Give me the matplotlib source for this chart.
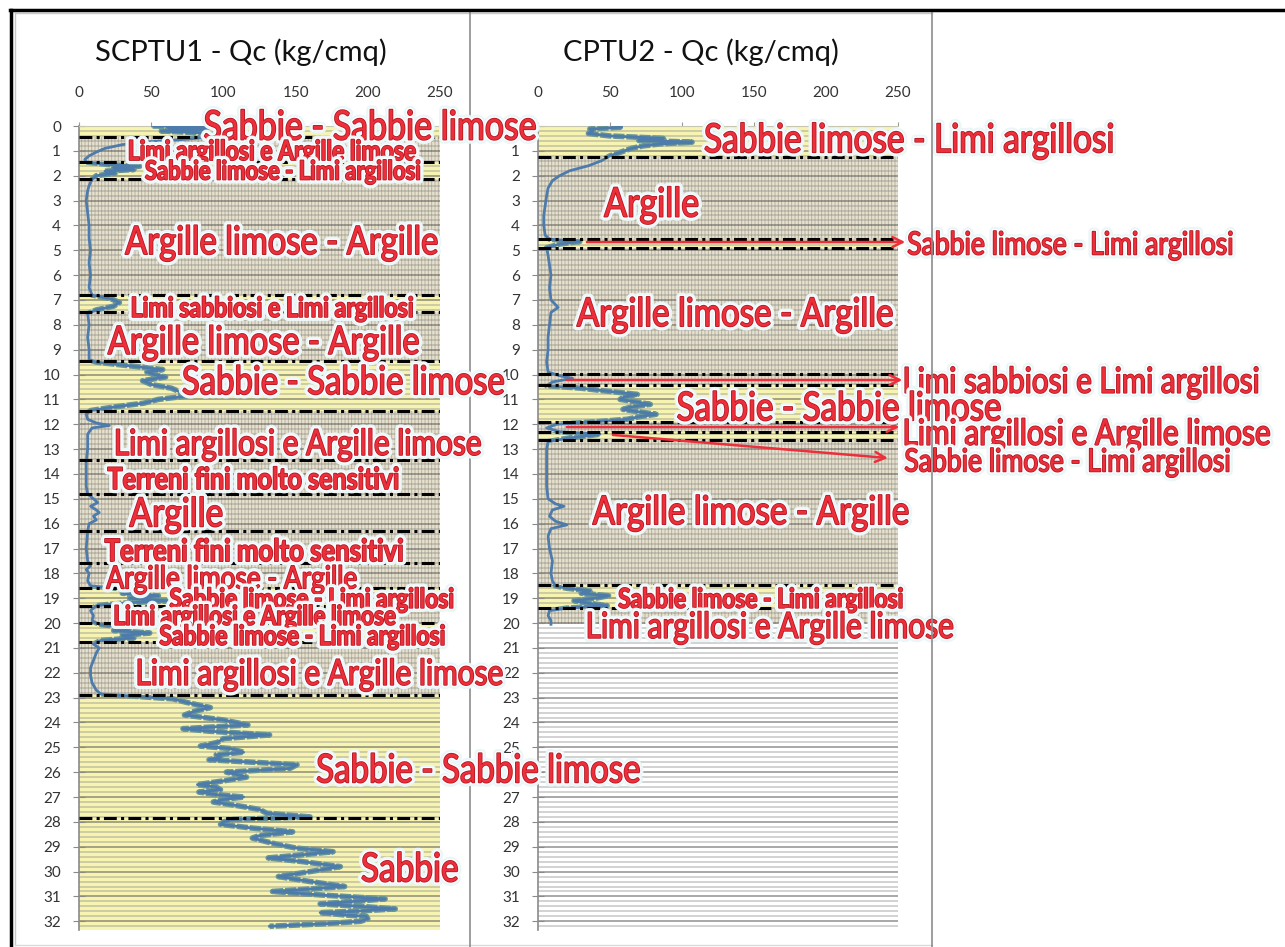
import matplotlib
matplotlib.use('Agg')
import matplotlib.pyplot as plt
import matplotlib.patheffects as pe
from matplotlib.lines import Line2D
from matplotlib.path import Path
from matplotlib.patches import PathPatch
from matplotlib.textpath import TextPath
from matplotlib.font_manager import FontProperties
from matplotlib.transforms import Affine2D
from matplotlib.ticker import MultipleLocator

plt.rcParams['font.family'] = ['Lato', 'DejaVu Sans']
plt.rcParams['hatch.linewidth'] = 0.7

### SCPTU1 - cone resistance Qc (kg/cmq) against depth (m) ###
scptu1_depth = [0.00, 0.04, 0.08, 0.14, 0.20, 0.28, 0.36, 0.45, 0.55, 0.65, 0.75, 0.90,
                1.05, 1.20, 1.35, 1.45, 1.55, 1.62, 1.68, 1.75, 1.82, 1.90, 2.00, 2.15,
                2.40, 2.60, 3.00, 3.50, 4.00, 4.50, 5.00, 5.50, 6.00, 6.50, 6.80, 6.95,
                7.10, 7.25, 7.40, 7.55, 8.00, 8.50, 9.00, 9.40, 9.50, 9.65, 9.80, 9.90,
                10.00, 10.10, 10.25, 10.40, 10.55, 10.70, 10.85, 11.00, 11.15, 11.30, 11.45, 11.60,
                11.80, 11.95, 12.05, 12.15, 12.40, 13.00, 13.50, 14.00, 14.50, 14.80, 15.00, 15.15,
                15.30, 15.45, 15.55, 15.70, 15.85, 16.00, 16.30, 17.00, 17.50, 17.70, 17.85, 18.00,
                18.30, 18.50, 18.60, 18.70, 18.80, 18.90, 19.00, 19.10, 19.20, 19.30, 19.50, 19.70,
                19.90, 20.05, 20.20, 20.30, 20.40, 20.50, 20.60, 20.70, 20.85, 21.00, 21.20, 21.50,
                21.80, 22.10, 22.40, 22.70, 22.85, 22.95, 23.05, 23.20, 23.40, 23.55, 23.70, 23.90,
                24.10, 24.25, 24.35, 24.50, 24.65, 24.80, 24.95, 25.05, 25.20, 25.30, 25.40, 25.50,
                25.70, 25.85, 26.00, 26.10, 26.20, 26.35, 26.50, 26.60, 26.70, 26.80, 26.90, 27.00,
                27.10, 27.20, 27.35, 27.50, 27.65, 27.80, 27.90, 28.00, 28.10, 28.25, 28.40, 28.55,
                28.65, 28.80, 28.90, 29.05, 29.20, 29.35, 29.45, 29.60, 29.80, 30.00, 30.20, 30.40,
                30.60, 30.70, 30.80, 30.95, 31.10, 31.20, 31.30, 31.40, 31.50, 31.60, 31.65, 31.75,
                31.80, 31.90, 32.00, 32.10, 32.20]
scptu1_qc = [51, 92, 62, 88, 57, 85, 95, 90, 70, 45, 30, 18,
             12, 7, 4, 5, 20, 42, 24, 38, 18, 25, 12, 9,
             7, 6, 5, 6, 7, 7, 8, 7, 8, 7, 9, 22,
             28, 24, 12, 6, 7, 6, 7, 7, 12, 35, 58, 47,
             52, 60, 44, 50, 64, 70, 77, 55, 45, 25, 8, 5,
             6, 12, 21, 9, 6, 6, 5, 5, 5, 6, 10, 13,
             8, 12, 14, 10, 12, 7, 6, 5, 6, 8, 5, 7,
             6, 8, 25, 45, 30, 55, 35, 61, 30, 12, 8, 10,
             9, 14, 35, 24, 49, 30, 38, 15, 10, 14, 12, 10,
             8, 8, 9, 12, 15, 40, 65, 75, 91, 80, 73, 100,
             117, 72, 90, 132, 100, 96, 84, 105, 114, 95, 98, 90,
             151, 146, 102, 110, 116, 100, 82, 95, 98, 83, 95, 114,
             100, 93, 110, 125, 130, 160, 107, 100, 98, 120, 148, 125,
             120, 130, 137, 150, 176, 150, 131, 155, 181, 160, 138, 160,
             184, 160, 134, 170, 212, 190, 167, 195, 219, 190, 167, 185,
             199, 200, 195, 170, 132]

### CPTU2 ###
cptu2_depth = [0.05, 0.12, 0.20, 0.30, 0.40, 0.50, 0.58, 0.65, 0.72, 0.80, 0.90, 1.00,
               1.20, 1.40, 1.60, 1.80, 2.00, 2.20, 2.50, 2.80, 3.20, 3.60, 4.00, 4.40,
               4.55, 4.65, 4.75, 4.90, 5.20, 5.60, 6.00, 6.50, 7.00, 7.30, 7.50, 8.00,
               8.50, 9.00, 9.50, 9.90, 10.05, 10.15, 10.30, 10.45, 10.55, 10.65, 10.80, 10.90,
               11.00, 11.10, 11.20, 11.30, 11.40, 11.50, 11.60, 11.70, 11.80, 11.90, 12.00, 12.15,
               12.30, 12.40, 12.50, 12.55, 12.70, 13.00, 13.50, 14.00, 14.50, 15.00, 15.20, 15.30,
               15.45, 15.70, 15.90, 16.05, 16.20, 16.50, 17.00, 17.50, 18.00, 18.30, 18.50, 18.60,
               18.70, 18.80, 18.90, 19.00, 19.10, 19.20, 19.30, 19.40, 19.50, 19.70, 19.90, 20.05]
cptu2_qc = [58, 36, 38, 35, 50, 87, 70, 107, 85, 73, 65, 60,
            50, 44, 35, 22, 15, 10, 7, 6, 5, 4, 4, 5,
            8, 29, 15, 6, 7, 8, 9, 8, 9, 14, 9, 8,
            7, 7, 6, 7, 15, 24, 10, 6, 30, 45, 69, 60,
            57, 68, 78, 65, 59, 70, 82, 70, 62, 40, 13, 6,
            15, 43, 30, 22, 7, 6, 6, 6, 6, 7, 12, 18,
            10, 8, 12, 20, 9, 7, 8, 10, 9, 10, 12, 20,
            36, 30, 49, 40, 25, 35, 48, 20, 8, 7, 9, 9]

### stratigraphy (top, bottom in m) ###
scptu1_sand = [(0, 0.43), (1.46, 2.12), (6.8, 7.5), (9.46, 11.48), (18.57, 19.3),
               (20.0, 20.75), (22.88, 32.35)]
scptu1_fine = [(0.43, 1.46), (2.12, 6.8), (7.5, 9.46), (11.48, 18.57), (19.3, 20.0),
               (20.75, 22.88)]
scptu1_bounds = [0.43, 1.46, 2.12, 6.8, 7.5, 9.46, 11.48, 13.43, 14.8, 16.29, 17.6,
                 18.57, 19.3, 20.0, 20.75, 22.88, 27.85]

cptu2_sand = [(0, 1.24), (4.56, 4.89), (10.44, 11.92), (12.32, 12.62), (18.47, 19.4)]
cptu2_fine = [(1.24, 4.56), (4.89, 10.44), (11.92, 12.32), (12.62, 18.47), (19.4, 20.05)]
cptu2_bounds = [1.24, 4.56, 4.89, 9.96, 10.44, 11.92, 12.32, 12.62, 18.47, 19.4]

qc_ticks = [0, 50, 100, 150, 200, 250]
depth_max = 32.35

# layer names: text, qc where it starts, qc where it ends, depth, bold
scptu1_notes = [
    ('Sabbie - Sabbie limose', 87, 316, -0.04, False),
    ('Limi argillosi e Argille limose', 35, 233, 0.97, True),
    ('Sabbie limose - Limi argillosi', 46, 236, 1.77, True),
    ('Argille limose - Argille', 32, 248, 4.59, False),
    ('Limi sabbiosi e Limi argillosi', 37, 231, 7.28, True),
    ('Argille limose - Argille', 20, 235, 8.61, False),
    ('Sabbie - Sabbie limose', 72, 294, 10.22, False),
    ('Limi argillosi e Argille limose', 26, 278, 12.72, False),
    ('Terreni fini molto sensitivi', 20, 221, 14.17, True),
    ('Argille', 35, 99, 15.53, False),
    ('Terreni fini molto sensitivi', 18, 224, 17.06, True),
    ('Argille limose - Argille', 19, 192, 18.15, False),
    ('Sabbie limose - Limi argillosi', 63, 259, 18.99, True),
    ('Limi argillosi e Argille limose', 25, 219, 19.68, True),
    ('Sabbie limose - Limi argillosi', 56, 253, 20.48, True),
    ('Limi argillosi e Argille limose', 41, 293, 21.97, False),
    ('Sabbie - Sabbie limose', 165, 388, 25.84, False),
    ('Sabbie', 196, 262, 29.82, False),
]
cptu2_notes = [
    ('Sabbie limose - Limi argillosi', 116, 399, 0.48, False),
    ('Argille', 46, 111, 3.06, False),
    ('Sabbie limose - Limi argillosi', 257, 482, 4.71, False),
    ('Argille limose - Argille', 27, 246, 7.48, False),
    ('Limi sabbiosi e Limi argillosi', 255, 500, 10.22, False),
    ('Sabbie - Sabbie limose', 97, 321, 11.27, False),
    ('Limi argillosi e Argille limose', 255, 508, 12.31, False),
    ('Sabbie limose - Limi argillosi', 255, 480, 13.44, False),
    ('Argille limose - Argille', 38, 257, 15.45, False),
    ('Sabbie limose - Limi argillosi', 56, 253, 18.99, True),
    ('Limi argillosi e Argille limose', 35, 288, 20.08, False),
]
# arrows from thin layers out to their names: (qc, depth) start -> end
cptu2_arrows = [((34, 4.67), (255, 4.67)),
                ((20, 10.22), (253, 10.22)),
                ((20, 12.11), (251, 12.11)),
                ((52, 12.43), (243, 13.36))]

W, H = 1285, 947
RED = '#ec2f3b'
STRETCH = 1.2   # layer names are drawn a little taller than the font
halo = [pe.Stroke(linewidth=6, foreground='#eaf6f8', joinstyle='round', capstyle='round'),
        pe.Stroke(linewidth=3, foreground='white', joinstyle='round', capstyle='round'),
        pe.Stroke(linewidth=1.2, foreground='#b51822', joinstyle='round', capstyle='round'),
        pe.Normal()]

fig = plt.figure(figsize=(W / 100, H / 100), dpi=100)


def fig_line(x0, y0, x1, y1, **kw):
    fig.add_artist(Line2D([x0 / W, x1 / W], [1 - y0 / H, 1 - y1 / H], **kw))


def draw_column(ax, depth, qc, sand, fine, bounds):
    ax.set_xlim(qc_ticks[0], qc_ticks[-1])
    ax.set_ylim(depth_max, 0)

    # layer colours: sand yellow, fine soils grey mesh
    for top, bot in sand:
        ax.axhspan(top, bot, color='#f7f3b0', lw=0, zorder=0)
    for top, bot in fine:
        ax.axhspan(top, bot, facecolor='#e6e1cf', edgecolor='#b9b29e', hatch='|||||',
                   lw=0, zorder=0)

    ax.yaxis.set_major_locator(MultipleLocator(1))
    ax.yaxis.set_minor_locator(MultipleLocator(0.2))
    ax.grid(axis='y', which='major', color='#555555', alpha=0.55, lw=1.3)
    ax.grid(axis='y', which='minor', color='#8c8c8c', alpha=0.45, lw=1.2)

    ax.xaxis.tick_top()
    ax.set_xticks(qc_ticks)
    ax.tick_params(axis='x', which='major', direction='out', length=3, pad=16,
                   labelsize=11, color='#9a9a9a', labelcolor='#333333')
    ax.tick_params(axis='y', which='major', direction='inout', length=8, pad=9,
                   labelsize=11, color='#8a8a8a', labelcolor='#333333')
    ax.tick_params(axis='y', which='minor', length=0)
    for side in ('right', 'bottom'):
        ax.spines[side].set_visible(False)
    ax.spines['left'].set_color('#8a8a8a')
    ax.spines['left'].set_linewidth(1.2)
    ax.spines['top'].set_color('#c8c8b0')

    # the profile; sandy stretches get a wider dashed band underneath
    ax.plot(qc, depth, color='#4d7bab', lw=2.0, zorder=3, solid_joinstyle='round')
    clip = Path.make_compound_path(*[
        Path.unit_rectangle().transformed(Affine2D().scale(400, b - t).translate(-50, t))
        for t, b in sand])
    band, = ax.plot(qc, depth, color='#6a9695', lw=4.0, ls=(0, (2.0, 0.35)), zorder=2.9)
    band.set_clip_path(clip, transform=ax.transData)

    for d in bounds:
        ax.axhline(d, color='black', lw=2.2, ls=(0, (4.2, 1.4, 1, 1.4)), zorder=4)


def name_layer(ax, text, q0, q1, d, bold):
    # text as an outline path, scaled to span q0..q1 and centred on depth d
    prop = FontProperties(family='Lato', weight='bold' if bold else 'normal')
    path = TextPath((0, 0), text, size=100, prop=prop)
    cap = TextPath((0, 0), 'H', size=100, prop=prop).get_extents().height
    ext = path.get_extents()
    x0, yc = ax.transData.transform((q0, d))
    x1 = ax.transData.transform((q1, d))[0]
    sx = (x1 - x0) / ext.width
    sy = sx * STRETCH
    tr = Affine2D().translate(-ext.x0, 0).scale(sx, sy).translate(x0, yc - cap * sy / 2)
    ax.add_patch(PathPatch(path, transform=tr, facecolor=RED, lw=0, zorder=6,
                           clip_on=False, path_effects=halo))


ax1 = fig.add_axes([79 / W, 1 - 930 / H, 361 / W, 804 / H])
ax2 = fig.add_axes([538 / W, 1 - 930 / H, 360 / W, 804 / H])
ax1.set_zorder(2)   # left names run across into the right column

draw_column(ax1, scptu1_depth, scptu1_qc, scptu1_sand, scptu1_fine, scptu1_bounds)
draw_column(ax2, cptu2_depth, cptu2_qc, cptu2_sand, cptu2_fine, cptu2_bounds)

for start, end in cptu2_arrows:
    ax2.annotate('', xy=end, xytext=start, annotation_clip=False, zorder=5,
                 arrowprops=dict(arrowstyle='->', color=RED, lw=1.8, mutation_scale=18,
                                 shrinkA=0, shrinkB=0))

for note in scptu1_notes:
    name_layer(ax1, *note)
for note in cptu2_notes:
    name_layer(ax2, *note)

fig.text(241 / W, 1 - 52 / H, 'SCPTU1 - Qc (kg/cmq)', ha='center', va='center',
         fontsize=21, color='#111111')
fig.text(701 / W, 1 - 52 / H, 'CPTU2 - Qc (kg/cmq)', ha='center', va='center',
         fontsize=21, color='#111111')

# panel frames
fig_line(15, 13, 932, 13, color='#c8c8c8', lw=1)
fig_line(15, 13, 15, 945, color='#c8c8c8', lw=1)
fig_line(15, 945, 932, 945, color='#dadada', lw=1)
fig_line(470, 13, 470, H, color='#8c8c8c', lw=1.2)
fig_line(932, 13, 932, H, color='#8c8c8c', lw=1.2)
fig_line(10, 10, W, 10, color='black', lw=2.5)
fig_line(11, 10, 11, H, color='black', lw=2.5)

fig.savefig('out.png', dpi=100)
